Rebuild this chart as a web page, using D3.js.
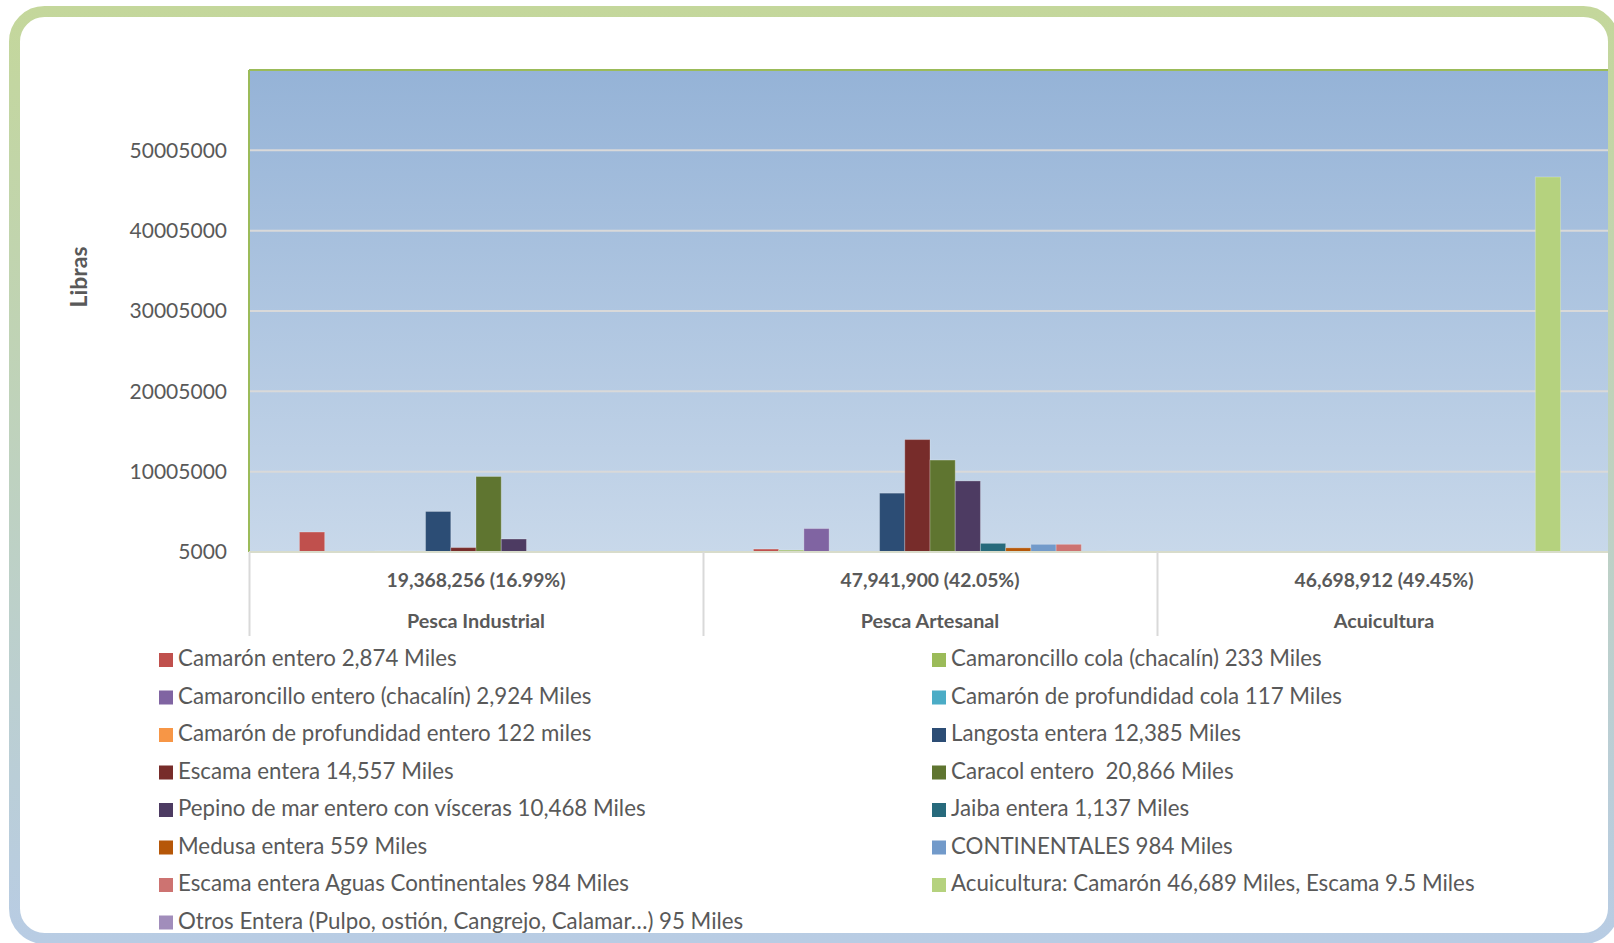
<!DOCTYPE html>
<html>
<head>
<meta charset="utf-8">
<script src="https://cdn.jsdelivr.net/npm/d3@7"></script>
<style>
  body { margin: 0; background: #fff; }
  text { font-family: "Lato", "Liberation Sans", sans-serif; }
</style>
</head>
<body>
<div id="chart"></div>
<script>
var svgWidth = 1614;
var svgHeight = 943;

// data
var categories = ["Pesca Industrial", "Pesca Artesanal", "Acuicultura"];
var categoryTotals = ["19,368,256 (16.99%)", "47,941,900 (42.05%)", "46,698,912 (49.45%)"];

var series = [
  "Camarón entero 2,874 Miles",
  "Camaroncillo cola (chacalín) 233 Miles",
  "Camaroncillo entero (chacalín) 2,924 Miles",
  "Camarón de profundidad cola 117 Miles",
  "Camarón de profundidad entero 122 miles",
  "Langosta entera 12,385 Miles",
  "Escama entera 14,557 Miles",
  "Caracol entero  20,866 Miles",
  "Pepino de mar entero con vísceras 10,468 Miles",
  "Jaiba entera 1,137 Miles",
  "Medusa entera 559 Miles",
  "CONTINENTALES 984 Miles",
  "Escama entera Aguas Continentales 984 Miles",
  "Acuicultura: Camarón 46,689 Miles, Escama 9.5 Miles",
  "Otros Entera (Pulpo, ostión, Cangrejo, Calamar…) 95 Miles"
];
var seriesColors = ["#C0504D", "#9BBB59", "#8064A2", "#4BACC6", "#F79646", "#2C4D75", "#772C2A",
  "#5F7530", "#4D3B62", "#276A7C", "#B65708", "#729ACA", "#CD7371", "#B5D27E", "#A18DBB"];

var industrialValues = [2490000, 0, 0, 117000, 122000, 5050000, 550000, 9400000, 1620000, 0, 0, 0, 0, 0, 0];
var artesanalValues = [370000, 233000, 2920000, 0, 0, 7330000, 14000000, 11450000, 8850000, 1080000, 520000, 960000, 960000, 0, 95000];
var acuiculturaValues = [0, 0, 0, 0, 0, 0, 0, 0, 0, 0, 0, 0, 0, 46689000, 0];

var yTicks = [5000, 10005000, 20005000, 30005000, 40005000, 50005000];

var valuesByCategory = [industrialValues, artesanalValues, acuiculturaValues];
var rows = [];
categories.forEach(function(c, ci) {
  series.forEach(function(s, si) {
    rows.push({category: c, series: s, value: valuesByCategory[ci][si], color: seriesColors[si]});
  });
});

var svg = d3.select("#chart")
  .append("svg")
  .attr("width", svgWidth)
  .attr("height", svgHeight);

var defs = svg.append("defs");
var plotGrad = defs.append("linearGradient").attr("id", "plotGrad")
  .attr("x1", 0).attr("y1", 0).attr("x2", 0).attr("y2", 1);
plotGrad.append("stop").attr("offset", "0%").attr("stop-color", "#95b3d7");
plotGrad.append("stop").attr("offset", "100%").attr("stop-color", "#c8d8ea");

var borderGrad = defs.append("linearGradient").attr("id", "borderGrad")
  .attr("gradientUnits", "userSpaceOnUse")
  .attr("x1", 0).attr("y1", 6).attr("x2", 0).attr("y2", 943);
borderGrad.append("stop").attr("offset", "0%").attr("stop-color", "#c4d79b");
borderGrad.append("stop").attr("offset", "100%").attr("stop-color", "#b8cce4");

// card background
svg.append("rect")
  .attr("x", 14.5).attr("y", 11.5)
  .attr("width", 1599).attr("height", 927)
  .attr("rx", 30).attr("ry", 30)
  .attr("fill", "#fff");

var plotLeft = 249, plotTop = 70, plotBottom = 552, catWidth = 454;

// scales
var x0 = d3.scaleBand()
  .domain(categories)
  .range([plotLeft, plotLeft + catWidth * categories.length])
  .padding(0);

var bw = x0.bandwidth();
var x1 = d3.scaleBand()
  .domain(series)
  .range([bw * 2 / 18, bw * 17 / 18])
  .padding(0);

var y = d3.scaleLinear()
  .domain([5000, 60005000])
  .range([plotBottom, plotTop]);

// plot area
svg.append("rect")
  .attr("x", plotLeft).attr("y", plotTop)
  .attr("width", x0.range()[1] - plotLeft)
  .attr("height", plotBottom - plotTop)
  .attr("fill", "url(#plotGrad)");

// gridlines
svg.append("g").selectAll("line")
  .data(yTicks.slice(1))
  .enter().append("line")
  .attr("x1", plotLeft).attr("x2", x0.range()[1])
  .attr("y1", d => y(d)).attr("y2", d => y(d))
  .attr("stroke", "#d9d9d9").attr("stroke-width", 2);

// bars
svg.append("g").selectAll("rect")
  .data(rows.filter(d => d.value > 5000))
  .enter().append("rect")
  .attr("x", d => x0(d.category) + x1(d.series))
  .attr("y", d => y(d.value))
  .attr("width", x1.bandwidth())
  .attr("height", d => y(5000) - y(d.value))
  .attr("fill", d => d.color)
  .attr("stroke", "rgba(255,255,255,0.25)")
  .attr("stroke-width", 1);

// plot border (top + left) in green
svg.append("line")
  .attr("x1", plotLeft).attr("x2", x0.range()[1])
  .attr("y1", plotTop).attr("y2", plotTop)
  .attr("stroke", "#9bbb59").attr("stroke-width", 2);
svg.append("line")
  .attr("x1", plotLeft).attr("x2", plotLeft)
  .attr("y1", plotTop).attr("y2", plotBottom)
  .attr("stroke", "#9bbb59").attr("stroke-width", 2);

// baseline + category separators
svg.append("line")
  .attr("x1", plotLeft).attr("x2", x0.range()[1])
  .attr("y1", plotBottom).attr("y2", plotBottom)
  .attr("stroke", "#d8dccb").attr("stroke-width", 2);
svg.append("g").selectAll("line")
  .data(categories.concat(["end"]))
  .enter().append("line")
  .attr("x1", (d, i) => plotLeft + i * bw + 0.5)
  .attr("x2", (d, i) => plotLeft + i * bw + 0.5)
  .attr("y1", plotBottom).attr("y2", 636)
  .attr("stroke", "#d9d9d9").attr("stroke-width", 2);

// y axis labels
var leftAxis = d3.axisLeft(y).tickValues(yTicks).tickSize(0).tickPadding(22).tickFormat(d3.format("d"));
var yAxisG = svg.append("g")
  .attr("transform", `translate(${plotLeft}, 0)`)
  .call(leftAxis);
yAxisG.select(".domain").remove();
yAxisG.selectAll("text")
  .attr("fill", "#595959")
  .style("font-size", "21px")
  .style("font-family", "Lato, sans-serif");

svg.append("text")
  .attr("transform", "translate(87, 277) rotate(-90)")
  .attr("text-anchor", "middle")
  .attr("fill", "#595959")
  .style("font-size", "23px")
  .style("font-weight", "bold")
  .text("Libras");

// category labels (two levels)
svg.append("g").selectAll("text")
  .data(categoryTotals)
  .enter().append("text")
  .attr("x", (d, i) => x0(categories[i]) + bw / 2)
  .attr("y", 587)
  .attr("text-anchor", "middle")
  .attr("fill", "#595959")
  .style("font-size", "19.3px")
  .style("font-weight", "bold")
  .text(d => d);

svg.append("g").selectAll("text")
  .data(categories)
  .enter().append("text")
  .attr("x", d => x0(d) + bw / 2)
  .attr("y", 628)
  .attr("text-anchor", "middle")
  .attr("fill", "#595959")
  .style("font-size", "19.8px")
  .style("font-weight", "bold")
  .text(d => d);

// legend, two columns, row-major
var legend = svg.append("g").selectAll("g")
  .data(series)
  .enter().append("g")
  .attr("transform", (d, i) => `translate(${i % 2 === 0 ? 159 : 932}, ${666 + Math.floor(i / 2) * 37.5})`);

legend.append("rect")
  .attr("x", 0).attr("y", -13)
  .attr("width", 14).attr("height", 14)
  .attr("fill", (d, i) => seriesColors[i]);

legend.append("text")
  .attr("x", 19).attr("y", 0)
  .attr("fill", "#595959")
  .style("font-size", "22.3px")
  .style("white-space", "pre")
  .text(d => d);

// card border on top
svg.append("rect")
  .attr("x", 14.5).attr("y", 11.5)
  .attr("width", 1599).attr("height", 927)
  .attr("rx", 30).attr("ry", 30)
  .attr("fill", "none")
  .attr("stroke", "url(#borderGrad)")
  .attr("stroke-width", 11);
</script>
</body>
</html>
